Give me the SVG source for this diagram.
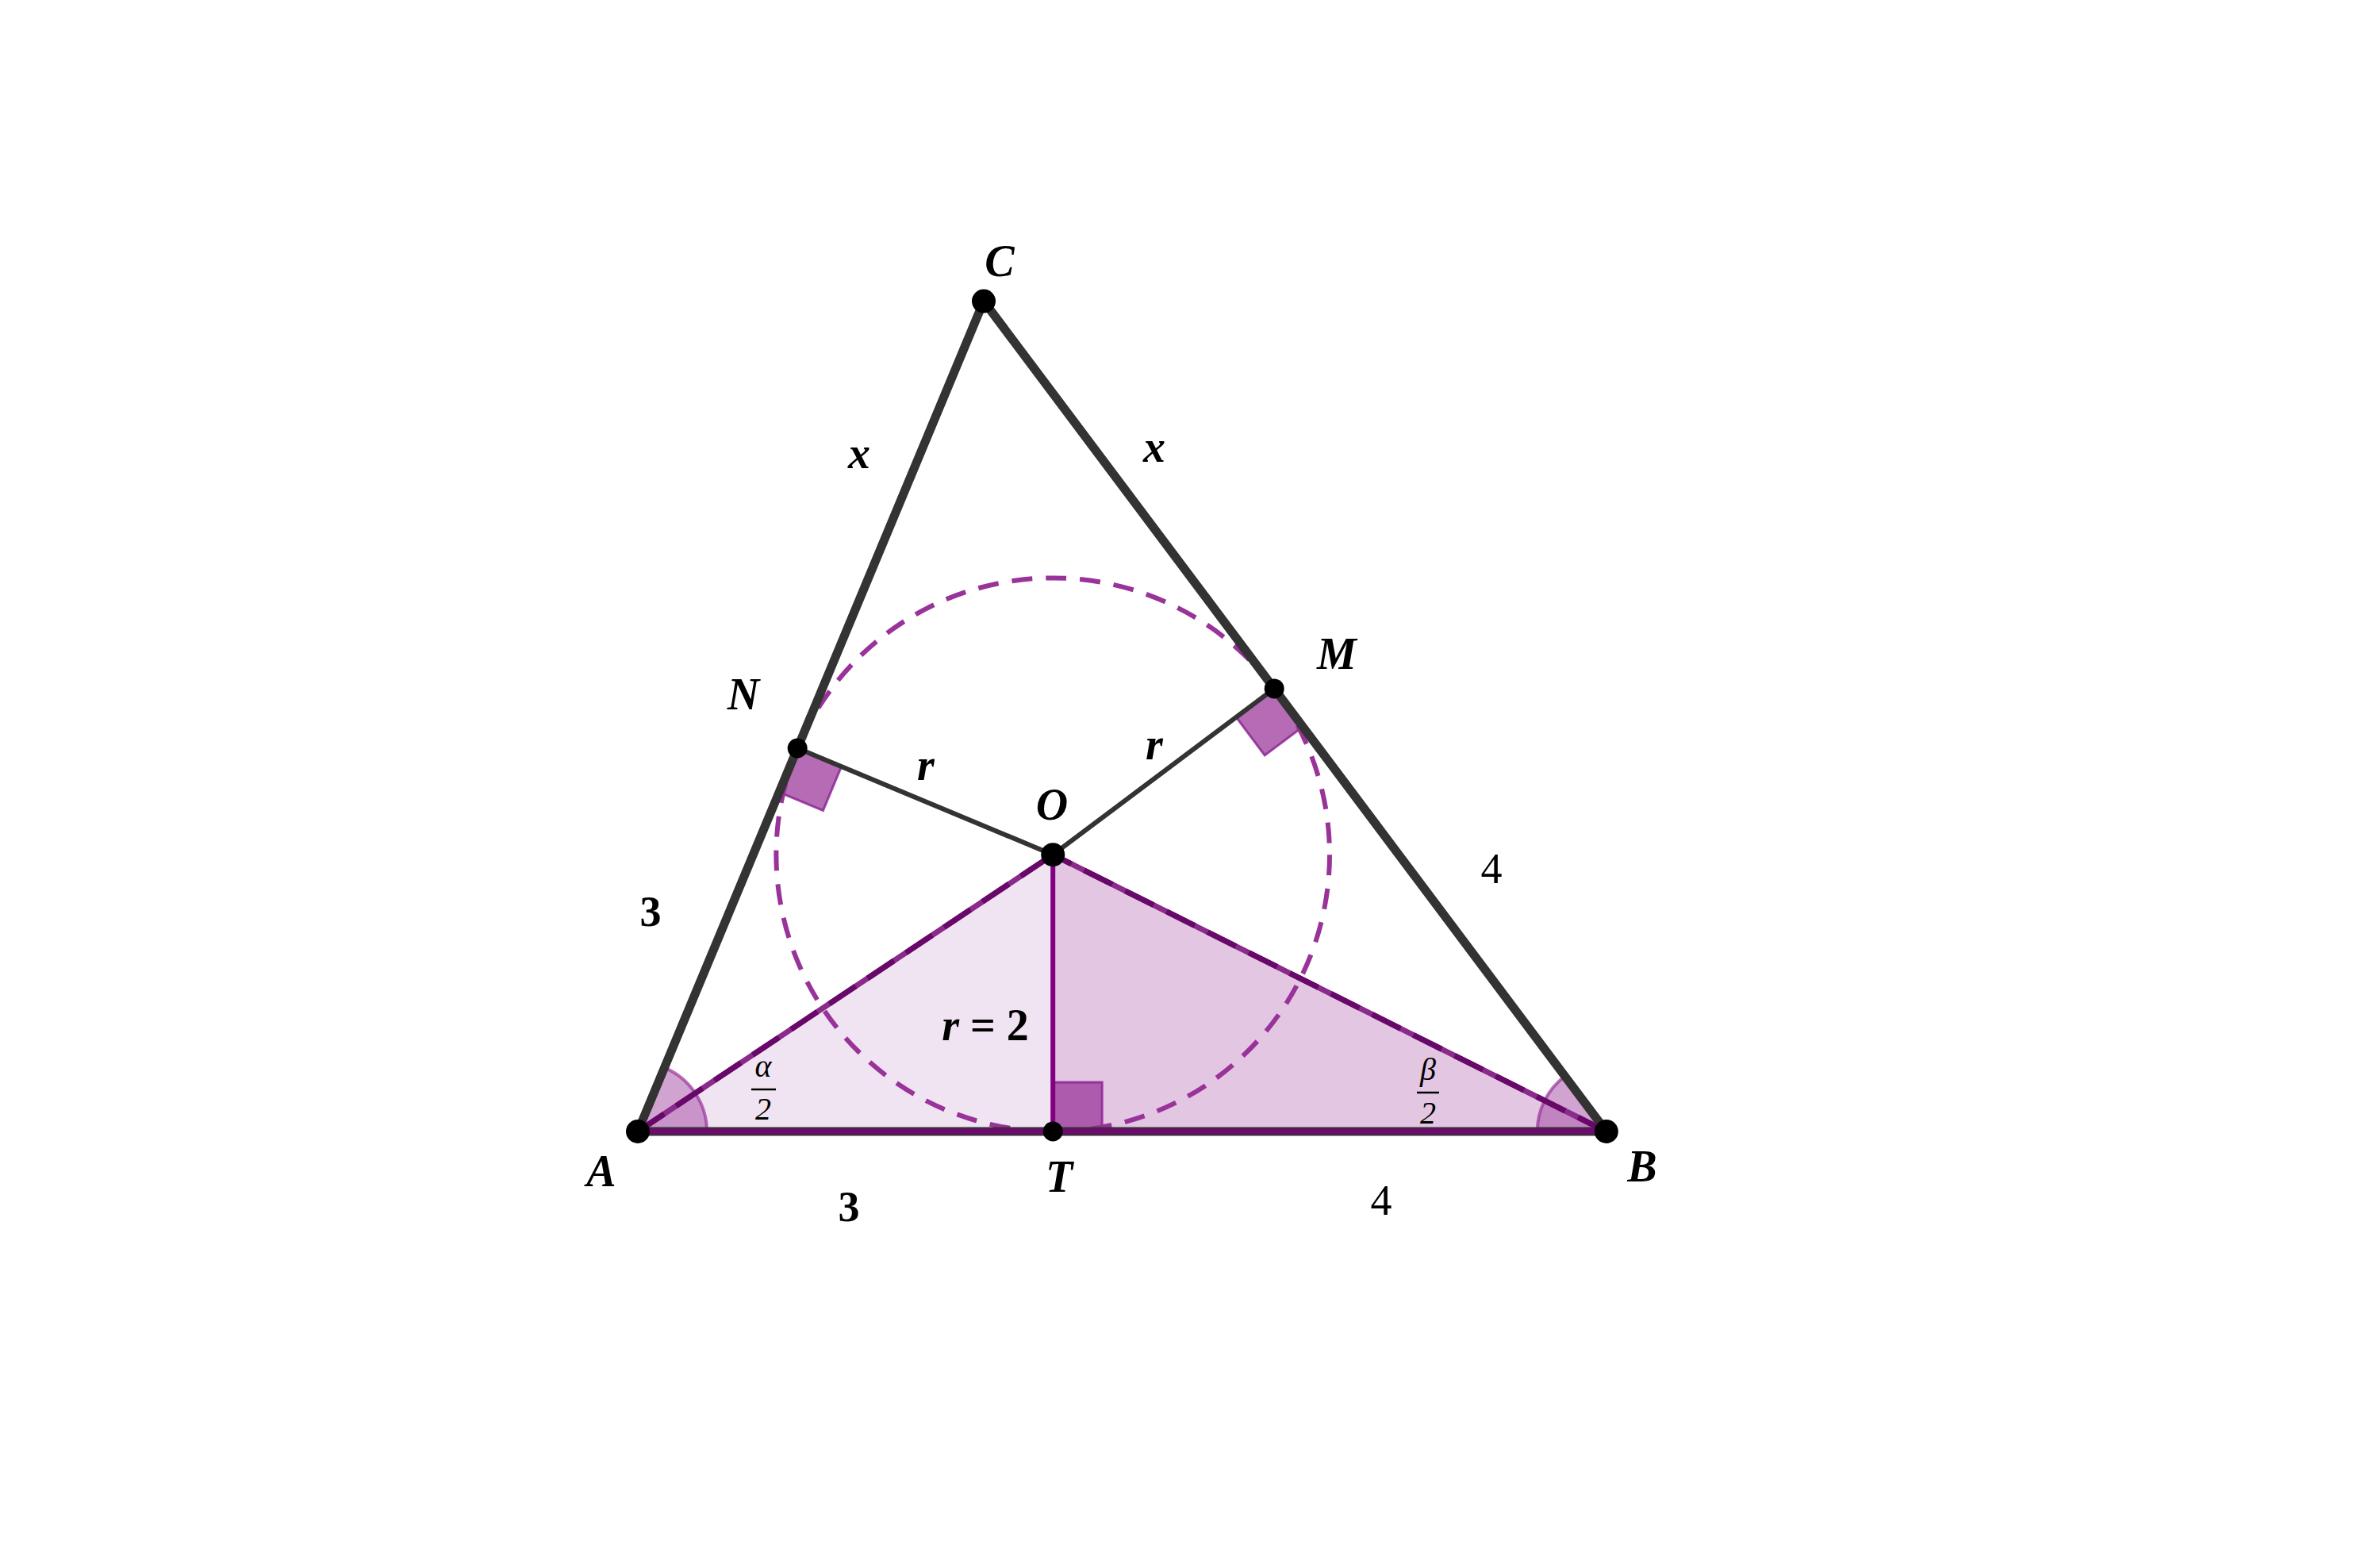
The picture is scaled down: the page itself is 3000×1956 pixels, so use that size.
<svg xmlns="http://www.w3.org/2000/svg" width="3000" height="1956" viewBox="0 0 3000 1956">
<style>
.lbl{font-family:"Liberation Serif","DejaVu Serif",serif;font-style:italic;font-weight:bold;font-size:56px;fill:#000;text-anchor:middle}
.num{font-family:"Liberation Serif","DejaVu Serif",serif;font-size:54px;fill:#000;text-anchor:middle}
.b{font-weight:bold}
.frac{font-family:"Liberation Serif","DejaVu Serif",serif;font-style:italic;font-size:40px;fill:#000;text-anchor:middle}
.side{stroke:#333;stroke-width:11;fill:none;stroke-linecap:round}
.rad{stroke:#333;stroke-width:6;fill:none}
.pur{stroke:#8a2a8a;stroke-width:7;fill:none}
.purd{stroke:#680868;stroke-width:7;fill:none;stroke-dasharray:40 18}
.sq{fill:#993399;fill-opacity:0.72;stroke:#8a1f94;stroke-opacity:0.8;stroke-width:3}
.ang{fill:#993399;fill-opacity:0.45;stroke:#993399;stroke-opacity:0.7;stroke-width:4}
.pt{fill:#000}
</style>
<rect width="3000" height="1956" fill="#fff"/>
<g id="regions">
<polygon points="804,1426 1327.2,1077.2 1327.2,1426" fill="#f1e4f2"/>
<polygon points="1327.2,1077.2 2024.8,1426 1327.2,1426" fill="#e3c6e2"/>
<path class="ang" d="M804,1426 L891,1426 A87,87 0 0 0 837.5,1345.7 Z"/>
<path class="ang" d="M2024.8,1426 L1937.8,1426 A87,87 0 0 1 1972.6,1356.4 Z"/>
<polygon class="sq" points="1327.2,1426 1389.2,1426 1389.2,1364 1327.2,1364"/>
<polygon class="sq" points="1005.2,943 1060.6,966.1 1037.5,1021.5 982.1,998.4"/>
<polygon class="sq" points="1606.2,867.9 1558.2,903.9 1594.2,951.9 1642.2,915.9"/>
</g>
<g id="incircle">
<circle cx="1327.2" cy="1077.2" r="348.8" fill="none" stroke="#993399" stroke-width="6" stroke-dasharray="26 17"/>
</g>
<g id="connectors">
<polyline class="side" points="804,1426 1240,379.6 2024.8,1426"/>
<line class="side" x1="804" y1="1426" x2="2024.8" y2="1426"/>
<line x1="804" y1="1426" x2="2024.8" y2="1426" stroke="#6e0a6e" stroke-width="7"/>
<line class="rad" x1="1005.2" y1="943" x2="1327.2" y2="1077.2"/>
<line class="rad" x1="1606.2" y1="867.9" x2="1327.2" y2="1077.2"/>
<line class="pur" x1="804" y1="1426" x2="1327.2" y2="1077.2"/>
<line class="purd" x1="804" y1="1426" x2="1327.2" y2="1077.2"/>
<line class="pur" x1="2024.8" y1="1426" x2="1327.2" y2="1077.2"/>
<line class="purd" x1="2024.8" y1="1426" x2="1327.2" y2="1077.2"/>
<line x1="1327.2" y1="1077.2" x2="1327.2" y2="1426" stroke="#800080" stroke-width="6"/>
</g>
<g id="node-A"><circle class="pt" cx="804" cy="1426" r="15"/><text class="lbl" x="758" y="1495">A</text></g>
<g id="node-B"><circle class="pt" cx="2024.8" cy="1426" r="15"/><text class="lbl" x="2070" y="1489">B</text></g>
<g id="node-C"><circle class="pt" cx="1240" cy="379.6" r="15"/><text class="lbl" x="1260" y="348">C</text></g>
<g id="node-O"><circle class="pt" cx="1327.2" cy="1077.2" r="15"/><text class="lbl" x="1326" y="1033">O</text></g>
<g id="node-T"><circle class="pt" cx="1327.2" cy="1426" r="12.5"/><text class="lbl" x="1335" y="1502">T</text></g>
<g id="node-N"><circle class="pt" cx="1005.2" cy="943" r="12.5"/><text class="lbl" x="937" y="894">N</text></g>
<g id="node-M"><circle class="pt" cx="1606.2" cy="867.9" r="12.5"/><text class="lbl" x="1685" y="843">M</text></g>
<g id="labels">
<text class="lbl" x="1083" y="590">x</text>
<text class="lbl" x="1455" y="582">x</text>
<text class="lbl" x="1167" y="983">r</text>
<text class="lbl" x="1455" y="957">r</text>
<text class="num b" x="820" y="1167">3</text>
<text class="num" x="1880" y="1113">4</text>
<text class="num b" x="1070" y="1539">3</text>
<text class="num" x="1741" y="1531">4</text>
<text class="lbl" x="1242" y="1311">r <tspan font-style="normal">= 2</tspan></text>
<text class="frac" x="962" y="1357">α</text>
<line x1="947" y1="1373" x2="978" y2="1373" stroke="#000" stroke-width="2.5"/>
<text class="frac" x="962" y="1411">2</text>
<text class="frac" x="1800" y="1361">β</text>
<line x1="1786" y1="1377" x2="1814" y2="1377" stroke="#000" stroke-width="2.5"/>
<text class="frac" x="1800" y="1416">2</text>
</g>
</svg>
